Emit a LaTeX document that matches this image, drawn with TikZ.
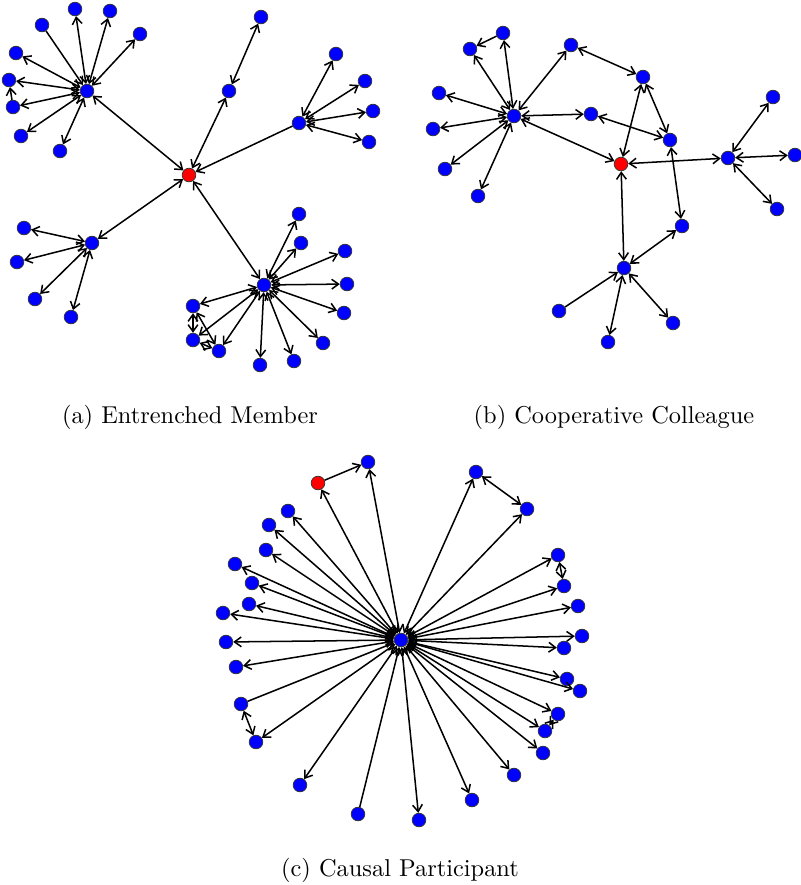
\documentclass[tikz,border=0pt]{standalone}
\usetikzlibrary{arrows.meta}

\tikzset{
	agent/.style={circle,draw=black!80,fill=blue,inner sep=0pt,minimum size=5.6pt,line width=0.3pt},
	seed/.style={agent,fill=red},
	link/.style={line width=0.62pt,-{Straight Barb[length=2.8pt,width=4pt]}},
	mutual/.style={line width=0.62pt,{Straight Barb[length=2.8pt,width=4pt]}-{Straight Barb[length=2.8pt,width=4pt]}}
}

\begin{document}
\begin{tikzpicture}[x=0.41pt,y=-0.41pt]
		\useasboundingbox (0,0) rectangle (800,885);
		
		% (a) entrenched member
		\node[seed] (ra) at (189,175) {};
		\node[agent] (a1) at (87,91) {};
		\node[agent] (a2) at (299,123) {};
		\node[agent] (a3) at (92,243) {};
		\node[agent] (a4) at (264,285) {};
		\node[agent] (am) at (229,91) {};
		\node[agent] (at) at (261,17) {};
		
		\node[agent] (a1p) at (42,25) {};
		\node[agent] (a1q) at (75,9) {};
		\node[agent] (a1r) at (110,11) {};
		\node[agent] (a1s) at (140,34) {};
		\node[agent] (a1t) at (16,53) {};
		\node[agent] (a1u) at (9,80) {};
		\node[agent] (a1v) at (13,107) {};
		\node[agent] (a1w) at (21,136) {};
		\node[agent] (a1x) at (60,151) {};
		
		\node[agent] (a2p) at (336,54) {};
		\node[agent] (a2q) at (365,81) {};
		\node[agent] (a2r) at (373,111) {};
		\node[agent] (a2s) at (369,142) {};
		
		\node[agent] (a3p) at (24,228) {};
		\node[agent] (a3q) at (17,262) {};
		\node[agent] (a3r) at (35,299) {};
		\node[agent] (a3s) at (71,317) {};
		
		\node[agent] (a4p) at (299,214) {};
		\node[agent] (a4q) at (301,243) {};
		\node[agent] (a4r) at (345,251) {};
		\node[agent] (a4s) at (347,284) {};
		\node[agent] (a4t) at (344,313) {};
		\node[agent] (a4u) at (323,343) {};
		\node[agent] (a4v) at (294,361) {};
		\node[agent] (a4w) at (260,365) {};
		\node[agent] (a4x) at (193,306) {};
		\node[agent] (a4y) at (193,340) {};
		\node[agent] (a4z) at (219,351) {};
		
		\path[link] (a1p) edge (a1) (a1v) edge (a1u);
		\path[mutual] (a1) edge (a1q) edge (a1r) edge (a1s) edge (a1t)
		edge (a1u) edge (a1v) edge (a1w) edge (a1x) edge (ra);
		\path[mutual] (ra) edge (am) edge (a3) edge (a4) (am) edge (at);
		\path[link] (a2) edge (ra);
		\path[mutual] (a2) edge (a2p) edge (a2q) edge (a2r) edge (a2s);
		\path[mutual] (a3) edge (a3p) edge (a3q) edge (a3r) edge (a3s);
		\path[mutual] (a4) edge (a4p) edge (a4q) edge (a4r) edge (a4s)
		edge (a4t) edge (a4u) edge (a4v) edge (a4w)
		edge (a4x) edge (a4y) edge (a4z);
		\path[mutual] (a4x) edge (a4y) (a4y) edge (a4z) (a4z) edge (a4x);
		
		\node (capa) at (190,417) {(a) Entrenched Member};
		
		% (b) cooperative colleague
		\node[seed] (rb) at (621,164) {};
		\node[agent] (b1) at (514,116) {};
		\node[agent] (b2) at (728,158) {};
		\node[agent] (b3) at (624,268) {};
		\node[agent] (bc) at (571,45) {};
		\node[agent] (bd) at (643,77) {};
		\node[agent] (be) at (591,114) {};
		\node[agent] (bf) at (670,140) {};
		\node[agent] (bg) at (682,226) {};
		
		\node[agent] (b1p) at (503,33) {};
		\node[agent] (b1q) at (470,49) {};
		\node[agent] (b1r) at (439,93) {};
		\node[agent] (b1s) at (433,129) {};
		\node[agent] (b1t) at (445,169) {};
		\node[agent] (b1u) at (478,196) {};
		
		\node[agent] (b2p) at (773,97) {};
		\node[agent] (b2q) at (795,155) {};
		\node[agent] (b2r) at (777,209) {};
		
		\node[agent] (b3p) at (559,311) {};
		\node[agent] (b3q) at (608,342) {};
		\node[agent] (b3r) at (673,323) {};
		
		\path[mutual] (b1) edge (b1p) edge (b1q) edge (b1r) edge (b1s)
		edge (b1t) edge (b1u) edge (bc) edge (be) edge (rb);
		\path[link] (b1p) edge (b1q);
		\path[mutual] (bc) edge (bd) (bd) edge (bf) edge (rb) (be) edge (bf)
		(bf) edge (bg) (bg) edge (b3) (rb) edge (b3) edge (b2);
		\path[mutual] (b2) edge (b2p) edge (b2q) edge (b2r);
		\path[link] (b3p) edge (b3);
		\path[mutual] (b3) edge (b3q) edge (b3r);
		
		\node (capb) at (614,417) {(b) Cooperative Colleague};
		
		% (c) causal participant
		\node[agent] (c) at (401,640) {};
		\node[seed] (rc) at (318,483) {};
		\node[agent] (cn) at (368,462) {};
		
		\node[agent] (c01) at (288,511) {};
		\node[agent] (c02) at (269,525) {};
		\node[agent] (c03) at (266,550) {};
		\node[agent] (c04) at (235,564) {};
		\node[agent] (c05) at (252,583) {};
		\node[agent] (c06) at (249,604) {};
		\node[agent] (c07) at (223,613) {};
		\node[agent] (c08) at (226,642) {};
		\node[agent] (c09) at (236,667) {};
		\node[agent] (c10) at (241,704) {};
		\node[agent] (c11) at (256,742) {};
		\node[agent] (c12) at (300,785) {};
		\node[agent] (c13) at (358,814) {};
		\node[agent] (c14) at (419,820) {};
		\node[agent] (c15) at (472,800) {};
		\node[agent] (c16) at (514,775) {};
		\node[agent] (c17) at (543,753) {};
		\node[agent] (c18) at (545,731) {};
		\node[agent] (c19) at (558,714) {};
		\node[agent] (c20) at (580,691) {};
		\node[agent] (c21) at (567,679) {};
		\node[agent] (c22) at (564,648) {};
		\node[agent] (c23) at (582,636) {};
		\node[agent] (c24) at (578,606) {};
		\node[agent] (c25) at (564,586) {};
		\node[agent] (c26) at (558,555) {};
		\node[agent] (c27) at (527,509) {};
		\node[agent] (c28) at (476,472) {};
		
		\path[mutual] (c) edge (rc) edge (cn);
		\path[link] (rc) edge (cn);
		\path[mutual] (c) edge (c01) edge (c02) edge (c03) edge (c04)
		edge (c05) edge (c06) edge (c07) edge (c08) edge (c09)
		edge (c11) edge (c12) edge (c14) edge (c15) edge (c16)
		edge (c17) edge (c18) edge (c19) edge (c20) edge (c21)
		edge (c22) edge (c23) edge (c24) edge (c25) edge (c26)
		edge (c27) edge (c28);
		\path[link] (c10) edge (c) (c13) edge (c);
		\path[mutual] (c10) edge (c11) (c18) edge (c19) (c25) edge (c26) (c27) edge (c28);
		
		\node (capc) at (400,870) {(c) Causal Participant};
		
	\end{tikzpicture}
\end{document}
